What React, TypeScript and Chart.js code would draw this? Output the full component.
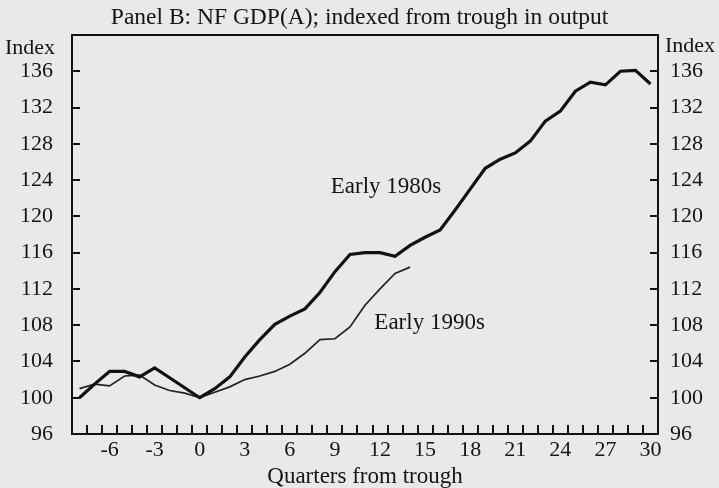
import React, { useEffect, useRef } from 'react';
import { Chart, registerables } from 'chart.js';

Chart.register(...registerables);

const quarters: string[] = [
  '-8', '-7', '-6', '-5', '-4', '-3', '-2', '-1', '0', '1', '2', '3', '4', '5', '6', '7', '8', '9', '10',
  '11', '12', '13', '14', '15', '16', '17', '18', '19', '20', '21', '22', '23', '24', '25', '26', '27', '28', '29', '30',
];

const early1980s: number[] = [
  100.0, 101.5, 102.9, 102.9, 102.3, 103.3, 102.2, 101.1, 100.0, 101.0, 102.3, 104.5, 106.4, 108.1, 109.0, 109.8,
  111.6, 113.9, 115.8, 116.0, 116.0, 115.6, 116.8, 117.7, 118.5, 120.7, 123.0, 125.3, 126.3, 127.0, 128.3, 130.5,
  131.6, 133.8, 134.8, 134.5, 136.0, 136.1, 134.6,
];

const early1990s: (number | null)[] = [
  101.0, 101.5, 101.3, 102.4, 102.5, 101.4, 100.8, 100.5, 100.0, 100.6, 101.2, 102.0, 102.4, 102.9, 103.7, 104.9,
  106.4, 106.5, 107.8, 110.2, 112.0, 113.7, 114.4,
];

const seriesLabels = [
  { text: 'Early 1980s', q: 12.4, v: 123.2 },
  { text: 'Early 1990s', q: 15.3, v: 108.3 },
];

const titleText = 'Panel B: NF GDP(A); indexed from trough in output';
const xTitle = 'Quarters from trough';
const yTitle = 'Index';

const INK = '#141414';
const FONT = '"Liberation Serif", "Times New Roman", serif';
const BG = '#e7eae8';

const framePlugin = {
  id: 'frameTicks',
  afterDraw(chart: any) {
    const { ctx, chartArea: a, scales } = chart;
    const x = scales.x;
    const y = scales.y;
    ctx.save();
    ctx.fillStyle = '#111111';
    const lw = 2;
    ctx.fillRect(a.left - lw / 2, a.top - lw / 2, a.right - a.left + lw, lw);
    ctx.fillRect(a.left - lw / 2, a.bottom - lw / 2, a.right - a.left + lw, lw);
    ctx.fillRect(a.left - lw / 2, a.top - lw / 2, lw, a.bottom - a.top + lw);
    ctx.fillRect(a.right - lw / 2, a.top - lw / 2, lw, a.bottom - a.top + lw);

    const tw = 2;
    const tlx = 9;
    const tly = 8;
    for (let i = 0; i < quarters.length - 1; i++) {
      const px = (x.getPixelForValue(i) + x.getPixelForValue(i + 1)) / 2;
      ctx.fillRect(Math.round(px) - 1, a.bottom - tlx, tw, tlx);
    }
    for (let v = 100; v <= 136; v += 4) {
      const py = Math.round(y.getPixelForValue(v));
      ctx.fillRect(a.left, py - 1, tly, tw);
      ctx.fillRect(a.right - tly, py - 1, tly, tw);
    }

    ctx.fillStyle = INK;
    ctx.font = `23px ${FONT}`;
    ctx.textAlign = 'center';
    ctx.textBaseline = 'middle';
    seriesLabels.forEach((l) => {
      ctx.fillText(l.text, x.getPixelForValue(l.q + 8), y.getPixelForValue(l.v));
    });

    ctx.font = `22px ${FONT}`;
    ctx.textBaseline = 'alphabetic';
    ctx.textAlign = 'right';
    ctx.fillText(yTitle, a.left - 17, a.top + 19);
    ctx.textAlign = 'left';
    ctx.fillText(yTitle, a.right + 7, a.top + 17);
    ctx.restore();
  },
};

export default function App() {
  const ref = useRef<HTMLCanvasElement | null>(null);

  useEffect(() => {
    document.body.style.margin = '0';
    const canvas = ref.current;
    if (!canvas) return;
    const chart = new Chart(canvas, {
      type: 'line',
      data: {
        labels: quarters,
        datasets: [
          {
            label: 'Early 1980s',
            data: early1980s,
            borderColor: '#111111',
            borderWidth: 3.2,
            pointRadius: 0,
            tension: 0,
            fill: false,
          },
          {
            label: 'Early 1990s',
            data: early1990s,
            borderColor: '#222222',
            borderWidth: 1.7,
            pointRadius: 0,
            tension: 0,
            fill: false,
          },
        ],
      },
      options: {
        animation: false,
        responsive: true,
        maintainAspectRatio: false,
        layout: { padding: 0 },
        plugins: {
          legend: { display: false },
          tooltip: { enabled: false },
          title: {
            display: true,
            text: titleText,
            color: INK,
            font: { family: FONT, size: 23.5, weight: 'normal' },
            padding: { top: 4, bottom: 2.8 },
          },
        },
        scales: {
          x: {
            type: 'category',
            offset: true,
            grid: { display: false, drawTicks: false, offset: true },
            border: { display: false },
            ticks: {
              autoSkip: false,
              maxRotation: 0,
              minRotation: 0,
              padding: 3,
              color: INK,
              font: { family: FONT, size: 22 },
              callback: function (this: any, value: any) {
                const lab = Number(this.getLabelForValue(value));
                return lab % 3 === 0 ? String(lab) : '';
              },
            },
            title: {
              display: true,
              text: xTitle,
              color: INK,
              font: { family: FONT, size: 23, lineHeight: 1 },
              padding: { top: 0, bottom: 0 },
            },
            afterFit: (s: any) => {
              s.height = 54;
            },
          },
          y: {
            position: 'left',
            min: 96,
            max: 140,
            grid: { display: false, drawTicks: false },
            border: { display: false },
            ticks: {
              stepSize: 4,
              padding: 19,
              color: INK,
              font: { family: FONT, size: 22 },
              callback: (v: any) => (v >= 140 ? '' : String(v)),
            },
            afterFit: (s: any) => {
              s.width = 72;
            },
          },
          y2: {
            position: 'right',
            min: 96,
            max: 140,
            grid: { display: false, drawTicks: false },
            border: { display: false },
            ticks: {
              stepSize: 4,
              padding: 12,
              color: INK,
              font: { family: FONT, size: 22 },
              callback: (v: any) => (v >= 140 ? '' : String(v)),
            },
            afterFit: (s: any) => {
              s.width = 61;
            },
          },
        },
      },
      plugins: [framePlugin],
    });
    return () => chart.destroy();
  }, []);

  return (
    <div style={{ position: 'fixed', left: 0, top: 0, width: 719, height: 488, background: BG }}>
      <canvas ref={ref} />
    </div>
  );
}
